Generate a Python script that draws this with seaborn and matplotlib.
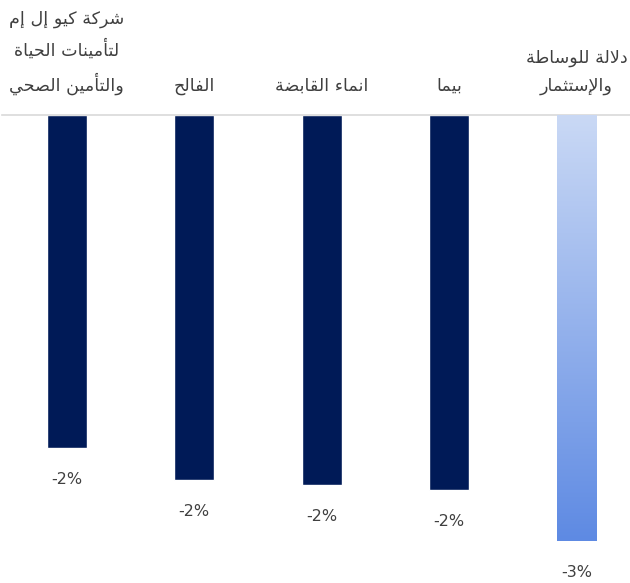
import numpy as np
import pandas as pd
import matplotlib
matplotlib.use("Agg")
import matplotlib.pyplot as plt
from matplotlib.colors import LinearSegmentedColormap
import seaborn as sns

# ---- data ----
categories = [
    "شركة كيو إل إم\nلتأمينات الحياة\nوالتأمين الصحي",
    "الفالح",
    "انماء القابضة",
    "بيما",
    "دلالة للوساطة\nوالإستثمار",
]
values = [-2.03, -2.23, -2.26, -2.29, -2.60]
bar_colors = ["#001A57", "#001A57", "#001A57", "#001A57", "#8EAEEC"]

# ---- minimal Arabic shaping (matplotlib has no shaping / bidi) ----
_dual = {'ئ': 0xFE89, 'ب': 0xFE8F, 'ت': 0xFE95, 'ث': 0xFE99, 'ج': 0xFE9D, 'ح': 0xFEA1,
         'خ': 0xFEA5, 'س': 0xFEB1, 'ش': 0xFEB5, 'ص': 0xFEB9, 'ض': 0xFEBD, 'ط': 0xFEC1,
         'ظ': 0xFEC5, 'ع': 0xFEC9, 'غ': 0xFECD, 'ف': 0xFED1, 'ق': 0xFED5, 'ك': 0xFED9,
         'ل': 0xFEDD, 'م': 0xFEE1, 'ن': 0xFEE5, 'ه': 0xFEE9, 'ي': 0xFEF1}
_right = {'آ': 0xFE81, 'أ': 0xFE83, 'ؤ': 0xFE85, 'إ': 0xFE87, 'ا': 0xFE8D, 'ة': 0xFE93,
          'د': 0xFEA9, 'ذ': 0xFEAB, 'ر': 0xFEAD, 'ز': 0xFEAF, 'و': 0xFEED, 'ى': 0xFEEF}
_none = {'ء': 0xFE80}
_lig = {'آ': 0xFEF5, 'أ': 0xFEF7, 'إ': 0xFEF9, 'ا': 0xFEFB}


def _shape_line(line):
    toks = []
    i = 0
    while i < len(line):
        c = line[i]
        if c == 'ل' and i + 1 < len(line) and line[i + 1] in _lig:
            toks.append(('LIG', line[i + 1]))
            i += 2
        else:
            toks.append(('C', c))
            i += 1

    def is_ar(t):
        return t[0] == 'LIG' or t[1] in _dual or t[1] in _right or t[1] in _none

    def is_dual(t):
        return t[0] == 'C' and t[1] in _dual

    out = []
    for k, t in enumerate(toks):
        prev = toks[k - 1] if k > 0 else None
        nxt = toks[k + 1] if k + 1 < len(toks) else None
        cp = prev is not None and is_dual(prev)
        if t[0] == 'LIG':
            out.append(chr(_lig[t[1]] + (1 if cp else 0)))
            continue
        c = t[1]
        if c in _dual:
            cn = nxt is not None and is_ar(nxt)
            base = _dual[c]
            if cp and cn:
                out.append(chr(base + 3))
            elif cp:
                out.append(chr(base + 1))
            elif cn:
                out.append(chr(base + 2))
            else:
                out.append(chr(base))
        elif c in _right:
            out.append(chr(_right[c] + (1 if cp else 0)))
        elif c in _none:
            out.append(chr(_none[c]))
        else:
            out.append(c)
    return ''.join(reversed(out))


def shape(text):
    return '\n'.join(_shape_line(l) for l in text.split('\n'))


# ---- plot ----
sns.set_theme(style="white")
plt.rcParams['font.family'] = ['DejaVu Sans']

df = pd.DataFrame({"company": categories, "value": values})

fig = plt.figure(figsize=(6.3, 5.83), dpi=100)
ax = fig.add_axes([0.003, 0.0, 0.997, 468 / 583])

sns.barplot(data=df, x="company", y="value", hue="company", palette=bar_colors,
            width=0.3125, legend=False, ax=ax, saturation=1)

# gradient on the last bar
patch = ax.patches[4]
x0, w = patch.get_x(), patch.get_width()
y0, h = patch.get_y(), patch.get_height()
cmap = LinearSegmentedColormap.from_list("g", ["#CAD9F5", "#5E8AE3"])
grad = np.linspace(0, 1, 256).reshape(-1, 1)
im = ax.imshow(grad, cmap=cmap, aspect="auto", origin="upper",
               extent=[x0, x0 + w, min(y0, y0 + h), max(y0, y0 + h)], zorder=3)
im.set_clip_path(patch)

ax.set_xlim(-0.51, 4.42)
ax.set_ylim(-2.856, 0)

for i, v in enumerate(values):
    ax.annotate(f"{v:.0f}%", xy=(i, v), xytext=(0, -22.6), textcoords="offset points",
                ha="center", va="center", fontsize=11.5, color="#404040")

ax.xaxis.tick_top()
ax.set_xticks(range(len(categories)))
ax.set_xticklabels([shape(c) for c in categories], fontsize=12.6, color="#404040",
                   linespacing=1.68)
ax.tick_params(axis="x", length=0, pad=14.5)
ax.set_yticks([])
ax.set_xlabel("")
ax.set_ylabel("")
for s in ["left", "right", "bottom"]:
    ax.spines[s].set_visible(False)
ax.spines["top"].set_color("#D9D9D9")
ax.spines["top"].set_linewidth(1.2)

fig.savefig("out.png", dpi=100)
